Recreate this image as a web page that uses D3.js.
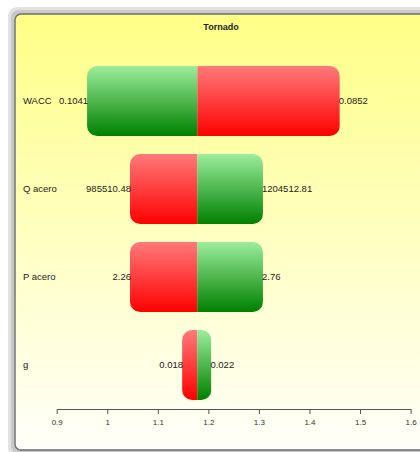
<!DOCTYPE html>
<html>
<head>
<meta charset="utf-8">
<script src="https://cdn.jsdelivr.net/npm/d3@7"></script>
<style>
  html, body { margin: 0; padding: 0; background: #ffffff; }
  svg { display: block; font-family: "Liberation Sans", Arial, sans-serif; }
</style>
</head>
<body>
<svg id="chart" width="420" height="452"></svg>
<script>
// Tornado chart: output value for low / high input of each driver
const categories = ["WACC", "Q acero", "P acero", "g"];
const inputLowLabels  = ["0.0852", "985510.48", "2.26", "0.018"];
const inputHighLabels = ["0.1041", "1204512.81", "2.76", "0.022"];
const outputAtLow  = [1.46, 1.045, 1.045, 1.148];
const outputAtHigh = [0.96, 1.308, 1.308, 1.206];
const baseValue = 1.178;
const axisTicks = [0.9, 1, 1.1, 1.2, 1.3, 1.4, 1.5, 1.6];
const chartTitle = "Tornado";

const W = 420, H = 452;
const svg = d3.select("#chart");
const defs = svg.append("defs");

function vGrad(id, top, bottom) {
  const g = defs.append("linearGradient").attr("id", id)
    .attr("x1", 0).attr("y1", 0).attr("x2", 0).attr("y2", 1);
  g.append("stop").attr("offset", "0%").attr("stop-color", top);
  g.append("stop").attr("offset", "100%").attr("stop-color", bottom);
}
vGrad("bgGrad", "#ffff86", "#fffffa");
vGrad("greenGrad", "#9ced9c", "#008000");
vGrad("redGrad", "#ff7a7a", "#ff0000");

// Panel with raised border
svg.append("rect").attr("x", 8).attr("y", 7).attr("width", W + 20).attr("height", H - 2)
  .attr("rx", 9).attr("fill", "#e2e2e2");
svg.append("rect").attr("x", 11).attr("y", 10).attr("width", W + 20).attr("height", H - 8)
  .attr("rx", 8).attr("fill", "#c8c8c8");
svg.append("rect").attr("x", 15).attr("y", 14).attr("width", W + 20).attr("height", H - 16)
  .attr("rx", 6).attr("fill", "url(#bgGrad)")
  .attr("stroke", "#6e6e6e").attr("stroke-width", 1.4);

svg.append("text").attr("x", 221).attr("y", 30)
  .attr("text-anchor", "middle").attr("font-size", 9).attr("font-weight", "bold")
  .attr("fill", "#222").text(chartTitle);

const x = d3.scaleLinear().domain([0.9, 1.6]).range([56.7, 410.6]);
const y = d3.scaleBand().domain(categories).range([66, 400]).paddingInner(0.2045).paddingOuter(0);

const rows = categories.map((c, i) => ({
  cat: c,
  low: outputAtLow[i], high: outputAtHigh[i],
  lowLabel: inputLowLabels[i], highLabel: inputHighLabels[i],
  i
}));

const g = svg.append("g");
rows.forEach(d => {
  const x0 = Math.min(d.low, d.high), x1 = Math.max(d.low, d.high);
  const top = y(d.cat), bh = y.bandwidth();
  const w = x(x1) - x(x0);
  const r = Math.min(10, w / 2.6);
  const clipId = "clip" + d.i;
  defs.append("clipPath").attr("id", clipId)
    .append("rect").attr("x", x(x0)).attr("y", top).attr("width", w).attr("height", bh)
    .attr("rx", r).attr("ry", r);
  const bar = g.append("g").attr("clip-path", `url(#${clipId})`);
  // red: output at low input, green: output at high input
  bar.append("rect")
    .attr("x", Math.min(x(d.low), x(baseValue))).attr("y", top)
    .attr("width", Math.abs(x(d.low) - x(baseValue))).attr("height", bh)
    .attr("fill", "url(#redGrad)");
  bar.append("rect")
    .attr("x", Math.min(x(d.high), x(baseValue))).attr("y", top)
    .attr("width", Math.abs(x(d.high) - x(baseValue))).attr("height", bh)
    .attr("fill", "url(#greenGrad)");

  const cy = top + bh / 2 + 3.4;
  g.append("text").attr("x", 23).attr("y", cy).attr("font-size", 9.5)
    .attr("fill", "#222").text(d.cat);

  const leftLabel = d.low < d.high ? d.lowLabel : d.highLabel;
  const rightLabel = d.low < d.high ? d.highLabel : d.lowLabel;
  g.append("text").attr("x", x(x0) + 1).attr("y", cy).attr("font-size", 9.5)
    .attr("text-anchor", "end").attr("fill", "#222").text(leftLabel);
  g.append("text").attr("x", x(x1) - 1).attr("y", cy).attr("font-size", 9.5)
    .attr("text-anchor", "start").attr("fill", "#222").text(rightLabel);
});

// Value axis
const axis = svg.append("g").attr("transform", "translate(0,409)")
  .call(d3.axisBottom(x).tickValues(axisTicks).tickFormat(d3.format("")).tickSize(5).tickSizeOuter(0));
axis.select(".domain").attr("stroke", "#555");
axis.selectAll(".tick line").attr("stroke", "#555");
axis.selectAll(".tick text").attr("font-size", 8).attr("fill", "#333")
  .attr("font-family", "Liberation Sans, Arial, sans-serif").attr("dy", "0.95em");
</script>
</body>
</html>
